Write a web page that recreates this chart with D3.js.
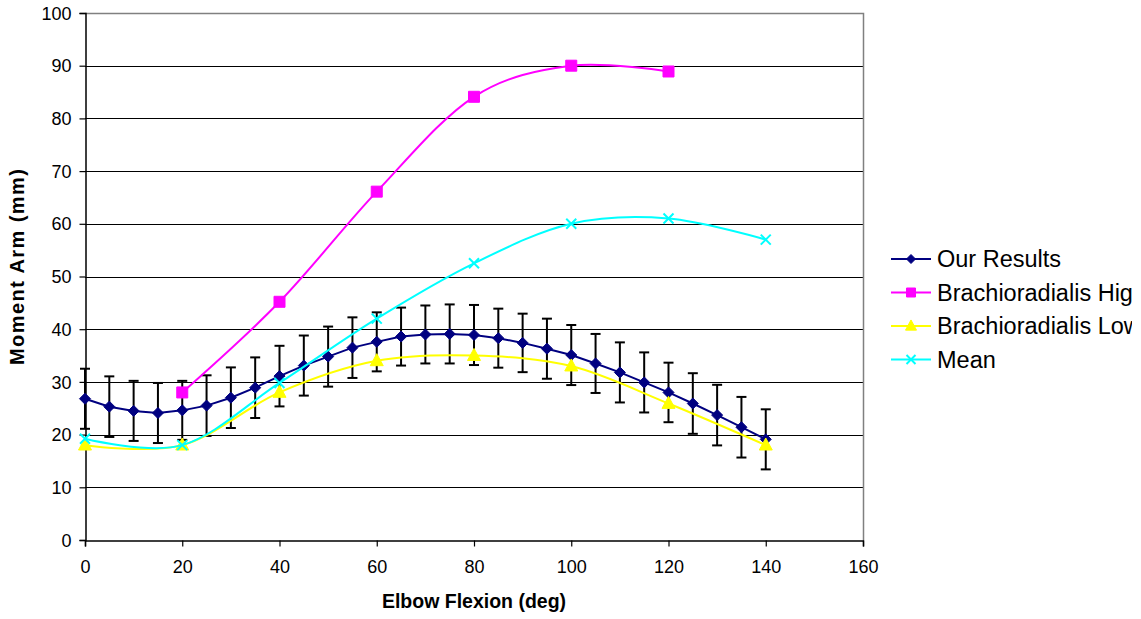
<!DOCTYPE html>
<html>
<head>
<meta charset="utf-8">
<script src="https://cdn.jsdelivr.net/npm/d3@7"></script>
<style>
  html, body { margin: 0; padding: 0; background: #fff; }
  svg { display: block; font-family: "Liberation Sans", Arial, sans-serif; }
</style>
</head>
<body>
<svg id="chart" width="1141" height="619"></svg>
<script>
// Elbow flexion angles (deg) for our measured moment arms
const ourAngles = [0, 5, 10, 15, 20, 25, 30, 35, 40, 45, 50, 55, 60, 65, 70,
                   75, 80, 85, 90, 95, 100, 105, 110, 115, 120, 125, 130, 135, 140];
const ourValues = [26.8, 25.3, 24.5, 24.1, 24.6, 25.5, 27.0, 28.9, 31.1, 33.1, 34.8, 36.5,
                   37.6, 38.6, 39.0, 39.1, 38.9, 38.3, 37.4, 36.3, 35.1, 33.5, 31.8, 29.9,
                   28.0, 25.9, 23.7, 21.4, 19.1];
const ourErrors = [5.7, 5.75, 5.7, 5.7, 5.6, 5.75, 5.75, 5.75, 5.75, 5.7, 5.7, 5.75,
                   5.6, 5.5, 5.5, 5.6, 5.7, 5.6, 5.55, 5.7, 5.7, 5.6, 5.7, 5.7,
                   5.65, 5.75, 5.75, 5.75, 5.7];

// Literature values for brachioradialis
const highAngles = [20, 40, 60, 80, 100, 120];
const highValues = [28, 45.2, 66.1, 84.1, 90, 88.9];
const lowAngles  = [0, 20, 40, 60, 80, 100, 120, 140];
const lowValues  = [18, 18, 28, 34, 35, 33, 25.9, 18];
const meanAngles = [0, 20, 40, 60, 80, 100, 120, 140];
const meanValues = [19.2, 18, 29.8, 42, 52.5, 60, 61, 57];

const seriesNames = ["Our Results", "Brachioradialis High", "Brachioradialis Low", "Mean"];
const seriesColors = ["#000080", "#FF00FF", "#FFFF00", "#00FFFF"];

const xTicks = [0, 20, 40, 60, 80, 100, 120, 140, 160];
const yTicks = [0, 10, 20, 30, 40, 50, 60, 70, 80, 90, 100];

const svg = d3.select("#chart");
const x = d3.scaleLinear().domain([0, 160]).range([85, 863]);
const y = d3.scaleLinear().domain([0, 100]).range([540, 13]);
const crisp = v => Math.round(v) + 0.5;

// Chart area clip (the legend runs past the right edge of the chart area)
svg.append("defs").append("clipPath").attr("id", "chartArea")
  .append("rect").attr("x", 0).attr("y", 0).attr("width", 1132).attr("height", 619);

// Gridlines
svg.append("g").selectAll("line")
  .data(yTicks.filter(t => t > 0 && t < 100))
  .join("line")
  .attr("x1", x(0)).attr("x2", x(160))
  .attr("y1", d => crisp(y(d))).attr("y2", d => crisp(y(d)))
  .attr("stroke", "#000").attr("stroke-width", 1);

// Plot border (top / right)
svg.append("path")
  .attr("d", `M${x(0)},${crisp(y(100))}H${crisp(x(160))}V${y(0)}`)
  .attr("fill", "none").attr("stroke", "#808080").attr("stroke-width", 1.5);

// Axes
const xAxis = svg.append("g")
  .attr("transform", `translate(0,${crisp(y(0))})`)
  .call(d3.axisBottom(x).tickValues(xTicks).tickSize(6).tickPadding(14).tickFormat(d3.format("d")));
const yAxis = svg.append("g")
  .attr("transform", `translate(${crisp(x(0))},0)`)
  .call(d3.axisLeft(y).tickValues(yTicks).tickSize(6).tickPadding(8).tickFormat(d3.format("d")));
[xAxis, yAxis].forEach(g => {
  g.select(".domain").attr("stroke", "#000").attr("stroke-width", 1.5);
  g.selectAll(".tick line").attr("stroke", "#000").attr("stroke-width", 1.2);
  g.selectAll(".tick text").attr("font-size", 18).attr("fill", "#000")
    .attr("font-family", "'Liberation Sans', Arial, sans-serif");
});
yAxis.selectAll(".tick text").attr("dy", "0.34em");

// Axis titles
svg.append("text")
  .attr("x", (x(0) + x(160)) / 2).attr("y", 608)
  .attr("text-anchor", "middle").attr("font-weight", "bold").attr("font-size", 19.5)
  .text("Elbow Flexion (deg)");
svg.append("text")
  .attr("transform", "translate(24,267) rotate(-90)")
  .attr("text-anchor", "middle").attr("font-weight", "bold").attr("font-size", 20)
  .attr("textLength", 196).attr("lengthAdjust", "spacing")
  .text("Moment Arm (mm)");

// Marker shapes
const markerPath = {
  diamond: r => `M0,${-r}L${r},0L0,${r}L${-r},0Z`,
  square: r => `M${-r},${-r}H${r}V${r}H${-r}Z`,
  triangle: r => `M0,${-r * 1.1}L${r},${r * 0.75}L${-r},${r * 0.75}Z`,
  cross: r => `M${-r},${-r}L${r},${r}M${-r},${r}L${r},${-r}`
};
const shapes = ["diamond", "square", "triangle", "cross"];
const markerSize = [5.5, 5.5, 6.5, 5];

function drawMarkers(g, pts, shape, color, r) {
  g.selectAll("path.m").data(pts).join("path")
    .attr("class", "m")
    .attr("transform", d => `translate(${x(d[0])},${y(d[1])})`)
    .attr("d", markerPath[shape](r))
    .attr("fill", shape === "cross" ? "none" : color)
    .attr("stroke", color)
    .attr("stroke-width", shape === "cross" ? 2 : 1);
}

// Our Results: error bars, straight line, diamonds
const ourPts = ourAngles.map((a, i) => [a, ourValues[i]]);
const gOur = svg.append("g");
const eb = gOur.append("g").attr("stroke", "#000").attr("stroke-width", 2);
ourPts.forEach((p, i) => {
  const cx = x(p[0]), yt = y(p[1] + ourErrors[i]), yb = y(p[1] - ourErrors[i]);
  eb.append("line").attr("x1", cx).attr("x2", cx).attr("y1", yt).attr("y2", yb);
  eb.append("line").attr("x1", cx - 5).attr("x2", cx + 5).attr("y1", yt).attr("y2", yt);
  eb.append("line").attr("x1", cx - 5).attr("x2", cx + 5).attr("y1", yb).attr("y2", yb);
});
gOur.append("path").datum(ourPts)
  .attr("d", d3.line().x(d => x(d[0])).y(d => y(d[1])))
  .attr("fill", "none").attr("stroke", seriesColors[0]).attr("stroke-width", 2);
drawMarkers(gOur, ourPts, "diamond", seriesColors[0], markerSize[0]);

// Smoothed literature series
const smooth = d3.line().x(d => x(d[0])).y(d => y(d[1])).curve(d3.curveCardinal.tension(0));
[[highAngles, highValues], [lowAngles, lowValues], [meanAngles, meanValues]].forEach(([ang, val], k) => {
  const pts = ang.map((a, i) => [a, val[i]]);
  const g = svg.append("g");
  g.append("path").datum(pts).attr("d", smooth)
    .attr("fill", "none").attr("stroke", seriesColors[k + 1]).attr("stroke-width", 2);
  drawMarkers(g, pts, shapes[k + 1], seriesColors[k + 1], markerSize[k + 1]);
});

// Legend
const legend = svg.append("g").attr("clip-path", "url(#chartArea)")
  .append("g").attr("transform", "translate(891,259)");
seriesNames.forEach((name, i) => {
  const row = legend.append("g").attr("transform", `translate(0,${i * 33.5})`);
  row.append("line").attr("x1", 0).attr("x2", 40).attr("y1", 0).attr("y2", 0)
    .attr("stroke", seriesColors[i]).attr("stroke-width", 2);
  row.append("path").attr("transform", "translate(20,0)")
    .attr("d", markerPath[shapes[i]](shapes[i] === "triangle" ? 5.5 : 4.5))
    .attr("fill", shapes[i] === "cross" ? "none" : seriesColors[i])
    .attr("stroke", seriesColors[i]).attr("stroke-width", shapes[i] === "cross" ? 2 : 1);
  row.append("text").attr("x", 46).attr("y", 0).attr("dy", "0.35em")
    .attr("font-size", 23.5).attr("fill", "#000").text(name);
});
</script>
</body>
</html>
